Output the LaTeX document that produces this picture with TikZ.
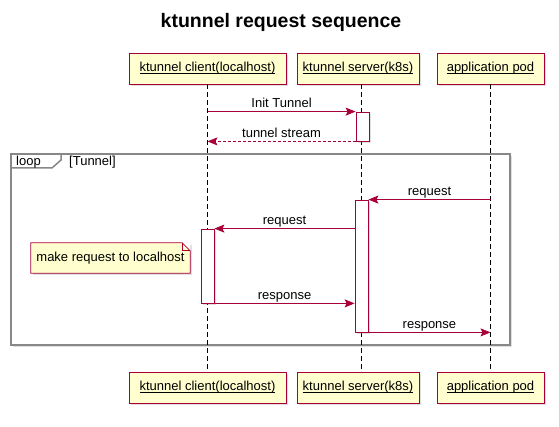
\documentclass[tikz,border=0pt]{standalone}
\usepackage{fontspec}
\setmainfont{Liberation Sans}
\usetikzlibrary{positioning,arrows.meta,shadows}
\definecolor{umlred}{HTML}{A80036}
\definecolor{umlyellow}{HTML}{FEFECE}
\definecolor{framegray}{HTML}{888888}
\newcommand\ulname[1]{\setbox0\hbox{#1}\rlap{\rule[-1.4pt]{\wd0}{0.7pt}}\box0}

\begin{document}
\begin{tikzpicture} [x = 1pt, y = -1pt, font = \fontsize{13}{15}\selectfont, node distance = 319pt,
        umlshadow/.style = {drop shadow = {shadow xshift = 2pt, shadow yshift = -2pt, opacity = 0.25}},
        participant/.style = {draw = umlred, fill = umlyellow, line width = 0.8pt, minimum height = 31pt, inner sep = 0pt, umlshadow},
        activation/.style = {draw = umlred, fill = white, line width = 0.8pt, minimum width = 13pt, minimum height = #1, inner sep = 0pt, umlshadow},
        lifeline/.style = {dash pattern = on 5pt off 3pt, line width = 0.7pt},
        msg/.style = {draw = umlred, line width = 0.8pt, -{Stealth[length = 10pt, width = 8pt, inset = 2pt]}},
        reply/.style = {msg, dash pattern = on 2.5pt off 2.5pt},
        msglabel/.style = {above, inner sep = 0.5pt, text height = 9.5pt, text depth = 2.7pt, text = black},
        frame/.style = {draw = framegray, line width = 1.5pt}]
    \useasboundingbox (0,0) rectangle (559,427);

    % title
    \node (title) at (281,22) {\fontsize{19.5}{22}\selectfont\bfseries ktunnel request sequence};

    % loop frame
    \draw [frame, fill = white, umlshadow] (11,154) rectangle (510,345);
    \draw [frame] (11,168) -- (52,168) -- (61,160) -- (61,154);
    \node [anchor = west, inner sep = 2pt] (looplabel) at (14,162.5) {loop};
    \node [anchor = west, inner sep = 2pt] (guard) at (67,162.5) {[Tunnel]};

    % participants
    \node [participant, minimum width = 157pt] (ctop) at (207.5,68.5) {\ulname{ktunnel client(localhost)}};
    \node [participant, minimum width = 122pt] (stop) at (358,68.5) {\ulname{ktunnel server(k8s)}};
    \node [participant, minimum width = 107pt] (ptop) at (490.5,68.5) {\ulname{application pod}};

    \node [participant, minimum width = 157pt] (cbot) [below of = ctop] {\ulname{ktunnel client(localhost)}};
    \node [participant, minimum width = 122pt] (sbot) [below of = stop] {\ulname{ktunnel server(k8s)}};
    \node [participant, minimum width = 107pt] (pbot) [below of = ptop] {\ulname{application pod}};

    % lifelines
    \coordinate (sline) at (361,0);
    \draw [lifeline] (ctop.south) -- (cbot.north);
    \draw [lifeline] (sline |- stop.south) -- (sline |- sbot.north);
    \draw [lifeline] (ptop.south) -- (pbot.north);

    % activations
    \node [activation = 29pt] (sact1) at (362.5,126.5) {};
    \node [activation = 132pt] (sact2) at (361.5,266) {};
    \node [activation = 74pt] (cact) at (207.5,266) {};

    % messages
    \path (ctop |- sact1.north west) edge [msg] node [msglabel] {Init Tunnel} (sact1.north west);
    \path (sact1.south west) edge [reply] node [msglabel] {tunnel stream} (ctop |- sact1.south west);
    \path (ptop |- sact2.north east) edge [msg] node [msglabel] {request} (sact2.north east);
    \path (sact2.west |- cact.north) edge [msg] node [msglabel] {request} (cact.north east);
    \path (cact.south east) edge [msg] node [msglabel] {response} (sact2.west |- cact.south);
    \path (sact2.south east) edge [msg] node [msglabel] {response} (ptop |- sact2.south east);

    % note
    \node [fill = umlyellow, minimum width = 159pt, minimum height = 30pt, inner sep = 0pt, umlshadow] (note) at (110.5,258) {make request to localhost};
    \fill [white] ([xshift = -8pt] note.north east) -- (note.north east) -- ([yshift = -8pt] note.north east) -- cycle;
    \draw [umlred, line width = 0.8pt] (note.north west) -- ([xshift = -8pt] note.north east) -- ([yshift = -8pt] note.north east) -- (note.south east) -- (note.south west) -- cycle;
    \draw [umlred, line width = 0.8pt] ([xshift = -8pt] note.north east) -- ([xshift = -8pt, yshift = -8pt] note.north east) -- ([yshift = -8pt] note.north east);
\end{tikzpicture}
\end{document}
